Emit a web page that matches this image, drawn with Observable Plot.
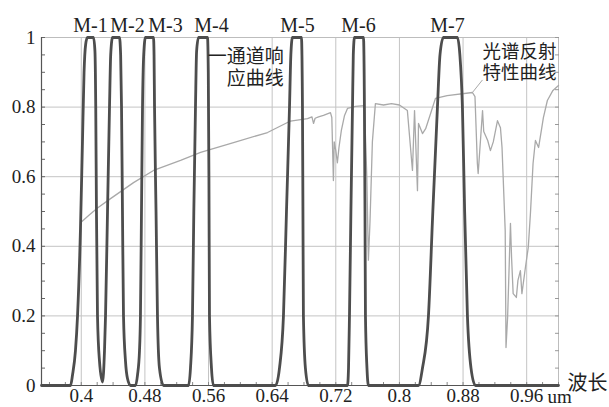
<!DOCTYPE html>
<html><head><meta charset="utf-8">
<script src="https://cdn.jsdelivr.net/npm/d3@7"></script>
<script src="https://cdn.jsdelivr.net/npm/@observablehq/plot@0.6"></script>
<style>
body{margin:0;background:#fff;}
#chart svg{display:block;}
#chart svg, #chart svg text{font-family:"Liberation Serif","Noto Sans CJK SC",serif !important;}
</style></head><body><div id="chart"></div>
<script>
// ---- data ----
const bandNames = ["M-1", "M-2", "M-3", "M-4", "M-5", "M-6", "M-7"];
const labelWavelengths = [0.4116, 0.4581, 0.5059, 0.5637, 0.6718, 0.7485, 0.8604];
// channel response curves: [wavelength (um), response]
const m1 = [[0.3865,0],[0.389,0.03],[0.3927,0.1],[0.3953,0.2],[0.399,0.45],[0.4015,0.7],[0.4035,0.9],[0.4055,0.98],[0.4078,1],[0.4154,1],[0.4172,0.96],[0.4182,0.8],[0.4191,0.5],[0.4204,0.2],[0.4229,0.07],[0.4267,0.01]];
const m2 = [[0.4292,0.1],[0.4305,0.2],[0.433,0.5],[0.4355,0.8],[0.437,0.95],[0.4393,1],[0.448,1],[0.4495,0.95],[0.4506,0.8],[0.4518,0.5],[0.4531,0.2],[0.4556,0.07],[0.4581,0.02],[0.4619,0]];
const m3 = [[0.4682,0],[0.4707,0.03],[0.4732,0.1],[0.4744,0.2],[0.4757,0.5],[0.477,0.8],[0.4785,0.95],[0.4807,1],[0.4908,1],[0.4915,0.95],[0.4921,0.8],[0.494,0.5],[0.4958,0.2],[0.4983,0.05],[0.5034,0]];
const m4 = [[0.5348,0],[0.5373,0.05],[0.5398,0.2],[0.5415,0.5],[0.5436,0.8],[0.545,0.96],[0.5474,1],[0.5587,1],[0.5597,0.9],[0.5605,0.6],[0.5612,0.2],[0.5637,0.05],[0.5662,0]];
const m5 = [[0.6442,0],[0.6492,0.05],[0.6542,0.2],[0.658,0.5],[0.6618,0.8],[0.6635,0.95],[0.6655,1],[0.6768,1],[0.6781,0.8],[0.6787,0.5],[0.6793,0.2],[0.6818,0.05],[0.6856,0]];
const m6 = [[0.7347,0],[0.736,0.05],[0.7372,0.2],[0.739,0.5],[0.741,0.8],[0.742,0.95],[0.7435,1],[0.7548,1],[0.756,0.8],[0.7567,0.5],[0.7573,0.2],[0.7592,0.05],[0.7611,0]];
const m7 = [[0.8239,0],[0.829,0.05],[0.8365,0.2],[0.842,0.5],[0.8478,0.8],[0.851,0.95],[0.8553,1],[0.8729,1],[0.876,0.95],[0.8792,0.8],[0.882,0.5],[0.8855,0.2],[0.89,0.05],[0.8956,0]];
// spectral reflectance curve
const reflWavelength = [0.399,0.41,0.4204,0.4368,0.4657,0.4908,0.5248,0.55,0.5914,0.6342,0.663,0.6845,0.69,0.692,0.694,0.6983,0.7045,0.7133,0.715,0.717,0.718,0.72,0.722,0.724,0.727,0.731,0.7347,0.7448,0.756,0.759,0.761,0.763,0.766,0.7698,0.78,0.79,0.8,0.81,0.8164,0.819,0.8227,0.824,0.829,0.833,0.839,0.8453,0.86,0.8918,0.895,0.898,0.899,0.9045,0.906,0.911,0.9144,0.918,0.9233,0.927,0.929,0.933,0.934,0.936,0.9396,0.941,0.943,0.947,0.949,0.9521,0.954,0.9584,0.962,0.9647,0.968,0.971,0.975,0.979,0.981,0.986,0.993,1.0];
const reflValue = [0.468,0.49,0.51,0.537,0.583,0.618,0.647,0.67,0.698,0.727,0.76,0.767,0.772,0.753,0.768,0.772,0.776,0.784,0.77,0.589,0.7,0.675,0.64,0.684,0.733,0.776,0.796,0.802,0.804,0.6,0.36,0.47,0.7,0.81,0.806,0.81,0.806,0.79,0.618,0.79,0.56,0.753,0.724,0.738,0.78,0.825,0.833,0.842,0.83,0.638,0.609,0.79,0.73,0.704,0.675,0.7,0.761,0.741,0.684,0.445,0.109,0.195,0.466,0.368,0.264,0.253,0.302,0.33,0.264,0.339,0.397,0.494,0.638,0.704,0.684,0.741,0.77,0.819,0.848,0.862];
const xTicks = [0.4, 0.48, 0.56, 0.64, 0.72, 0.8, 0.88, 0.96];
const yTicks = [0, 0.2, 0.4, 0.6, 0.8, 1];
const xDomain = [0.35, 1.0];
const axisTitle = "波长";
const unitLabel = "um";
const channelNote = "一通道响\n应曲线";
const spectrumNote = "光谱反射\n特性曲线";

// ---- build tables ----
const bands = [m1, m2, m3, m4, m5, m6, m7];
const channel = [[xDomain[0], 0]];
for (const b of bands) for (const p of b) if (p[0] > channel[channel.length - 1][0]) channel.push(p);
channel.push([xDomain[1], 0]);
const channelData = channel.map(([w, r]) => ({w, r}));
const reflData = reflWavelength.map((w, i) => ({w, r: reflValue[i]}));
const labels = bandNames.map((name, i) => ({name, w: labelWavelengths[i]}));
const minorY = d3.range(0, 21).map(i => +(i * 0.05).toFixed(2));
const minorX = d3.range(0, 33).map(i => +(0.36 + i * 0.02).toFixed(2));
const leaderEnd = reflData.find(d => d.w === 0.8918);

const FONT = '"Liberation Serif","Noto Sans CJK SC",serif';
const plot = Plot.plot({
  width: 609, height: 407,
  marginLeft: 41, marginRight: 51, marginTop: 37, marginBottom: 22,
  style: {fontFamily: FONT, fontSize: "19px", color: "#222", background: "#fff", overflow: "visible"},
  x: {domain: xDomain},
  y: {domain: [0, 1]},
  marks: [
    Plot.gridX(xTicks, {stroke: "#c4c4c4", strokeOpacity: 1}),
    Plot.gridY([0.2, 0.4, 0.6, 0.8], {stroke: "#c4c4c4", strokeOpacity: 1}),
    Plot.frame({stroke: "#bdbdbd"}),
    Plot.axisY(minorY, {anchor: "left", tickSize: -4, text: null, label: null, stroke: "#666"}),
    Plot.axisY(minorY, {anchor: "right", tickSize: -4, text: null, label: null, stroke: "#999"}),
    Plot.axisX(minorX, {anchor: "bottom", tickSize: -3, text: null, label: null, stroke: "#888"}),
    Plot.axisY(yTicks, {anchor: "left", tickSize: 0, tickPadding: 6, fontSize: 19, label: null, tickFormat: d => String(d)}),
    Plot.axisX(xTicks, {anchor: "bottom", tickSize: 0, tickPadding: 3, fontSize: 19, label: null, tickFormat: d => String(d)}),
    Plot.ruleX([xDomain[0]], {stroke: "#555", strokeWidth: 1.2}),
    Plot.ruleY([0], {stroke: "#555", strokeWidth: 1.2}),
    Plot.line(reflData, {x: "w", y: "r", stroke: "#a9a9a9", strokeWidth: 1.3}),
    Plot.line(channelData, {x: "w", y: "r", stroke: "#4d4d4d", strokeWidth: 2.8, curve: "monotone-x"}),
    Plot.text(labels, {x: "w", text: "name", frameAnchor: "top", lineAnchor: "bottom", dy: -6, fontSize: 20, fill: "#222"}),
    Plot.text([channelNote], {x: 0.6545, y: 0.972, text: d => d, textAnchor: "end", lineAnchor: "top", lineHeight: 1.15, fontSize: 19, fill: "#222"}),
    Plot.text([spectrumNote], {x: 0.9044, y: 0.985, text: d => d, textAnchor: "start", lineAnchor: "top", lineHeight: 1.15, fontSize: 18.5, fill: "#222"}),
    Plot.link([leaderEnd], {x1: 0.9044, y1: 0.878, x2: "w", y2: "r", stroke: "#a9a9a9", strokeWidth: 1}),
    Plot.text([axisTitle], {frameAnchor: "bottom-right", textAnchor: "start", lineAnchor: "middle", dx: 9, dy: -2, fontSize: 20, fill: "#222"}),
    Plot.text([unitLabel], {frameAnchor: "bottom-right", textAnchor: "start", lineAnchor: "top", dx: -11, dy: 4, fontSize: 19, fill: "#222"})
  ]
});
document.getElementById("chart").appendChild(plot);
</script>
</body></html>
